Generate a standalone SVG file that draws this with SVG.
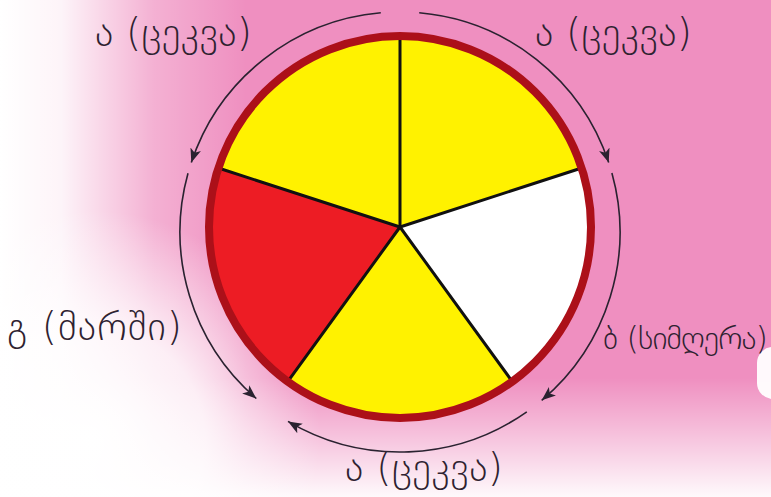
<svg xmlns="http://www.w3.org/2000/svg" width="771" height="497" viewBox="0 0 771 497">
  <style>
    .lbl { font-family: "DejaVu Sans", "Noto Sans", sans-serif; fill: #2e2230; font-weight: 300; }
    .big { font-size: 39px; }
    .small { font-size: 32px; }
    .arc { fill: none; stroke: #2a2230; stroke-width: 1.6; marker-end: url(#ah); }
    .spoke { stroke: #111; stroke-width: 3; stroke-linecap: round; }
  </style>
  <defs>
    <marker id="ah" markerUnits="userSpaceOnUse" markerWidth="15" markerHeight="12" refX="14" refY="5.5" orient="auto">
      <path d="M0,0 L14,5.5 L0,11 L3.5,5.5 Z" fill="#2a2230"/>
    </marker>
    <linearGradient id="gl" x1="0" y1="0" x2="1" y2="0">
      <stop offset="0" stop-color="#fff" stop-opacity="1"/>
      <stop offset="0.08" stop-color="#fff" stop-opacity="0.9"/>
      <stop offset="0.2" stop-color="#fff" stop-opacity="0.3"/>
      <stop offset="0.32" stop-color="#fff" stop-opacity="0"/>
    </linearGradient>
    <linearGradient id="gb" x1="0" y1="0" x2="0" y2="1">
      <stop offset="0.76" stop-color="#fff" stop-opacity="0"/>
      <stop offset="0.9" stop-color="#fff" stop-opacity="0.55"/>
      <stop offset="1" stop-color="#fff" stop-opacity="0.95"/>
    </linearGradient>
    <radialGradient id="gr" cx="90" cy="440" r="230" gradientUnits="userSpaceOnUse">
      <stop offset="0" stop-color="#fff" stop-opacity="1"/>
      <stop offset="0.5" stop-color="#fff" stop-opacity="0.8"/>
      <stop offset="1" stop-color="#fff" stop-opacity="0"/>
    </radialGradient>
  </defs>

  <g id="background">
    <rect x="0" y="0" width="771" height="497" fill="#EF8FC0"/>
    <rect x="0" y="0" width="771" height="497" fill="url(#gl)"/>
    <rect x="0" y="0" width="771" height="497" fill="url(#gb)"/>
    <rect x="0" y="0" width="771" height="497" fill="url(#gr)"/>
    <rect x="757" y="347" width="40" height="52" rx="16" fill="#fff" fill-opacity="0.95"/>
  </g>

  <g id="pie">
    <path id="sector-top-left" d="M400,227 L218.35,167.98 A191,191 0 0 1 400,36 Z" fill="#FFF200"/>
    <path id="sector-top-right" d="M400,227 L400,36 A191,191 0 0 1 581.65,167.98 Z" fill="#FFF200"/>
    <path id="sector-right" d="M400,227 L581.65,167.98 A191,191 0 0 1 512.27,381.52 Z" fill="#FFFFFF"/>
    <path id="sector-bottom" d="M400,227 L512.27,381.52 A191,191 0 0 1 287.73,381.52 Z" fill="#FFF200"/>
    <path id="sector-left" d="M400,227 L287.73,381.52 A191,191 0 0 1 218.35,167.98 Z" fill="#ED1C24"/>
    <line class="spoke" x1="400" y1="227" x2="400" y2="36"/>
    <line class="spoke" x1="400" y1="227" x2="581.65" y2="167.98"/>
    <line class="spoke" x1="400" y1="227" x2="512.27" y2="381.52"/>
    <line class="spoke" x1="400" y1="227" x2="287.73" y2="381.52"/>
    <line class="spoke" x1="400" y1="227" x2="218.35" y2="167.98"/>
    <circle cx="400" cy="227" r="191" fill="none" stroke="#AC1019" stroke-width="8"/>
  </g>

  <g id="connectors">
    <path class="arc" d="M380.8,12.8 A220,220 0 0 0 191.3,162.6"/>
    <path class="arc" d="M419.2,12.8 A220,220 0 0 1 608.7,162.6"/>
    <path class="arc" d="M611.9,173 A220,220 0 0 1 541.7,400.3"/>
    <path class="arc" d="M526.8,411.8 A220,220 0 0 1 288,421.4"/>
    <path class="arc" d="M188,173.2 A220,220 0 0 0 256.3,398.5"/>
  </g>

  <g id="labels">
    <text class="lbl big" x="95" y="46" textLength="157">ა (ცეკვა)</text>
    <text class="lbl big" x="535" y="46" textLength="157">ა (ცეკვა)</text>
    <text class="lbl big" x="7" y="340" textLength="175">გ (მარში)</text>
    <text class="lbl small" x="603" y="349" textLength="165">ბ (სიმღერა)</text>
    <text class="lbl big" x="345" y="481" textLength="158">ა (ცეკვა)</text>
  </g>
</svg>
